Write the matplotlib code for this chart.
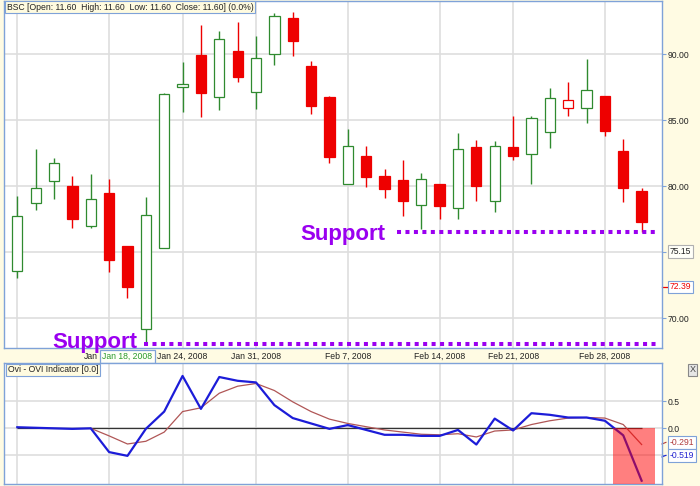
import matplotlib
matplotlib.use("Agg")
import matplotlib.pyplot as plt
import matplotlib.transforms as mtransforms
from matplotlib.patches import Rectangle
import numpy as np

plt.rcParams["font.family"] = ["Liberation Sans", "DejaVu Sans"]

# --- price data (one value per trading session) ---
opens = [73.58, 78.76, 80.42, 80.02, 77.02, 79.49, 75.48, 69.19, 75.33, 87.50,
         89.95, 86.74, 90.23, 87.12, 90.00, 92.77, 89.09, 86.77, 80.20, 82.30,
         80.80, 80.45, 78.56, 80.15, 78.36, 82.95, 78.91, 83.00, 82.42, 84.14,
         85.91, 85.91, 86.82, 82.70, 79.67]
highs = [79.29, 82.80, 82.12, 80.78, 80.93, 80.55, 75.48, 79.21, 87.05, 89.44,
         92.20, 91.77, 92.42, 91.41, 93.11, 93.23, 89.49, 86.82, 84.34, 83.03,
         81.31, 81.97, 81.01, 80.15, 84.02, 83.51, 83.43, 85.33, 85.30, 87.42,
         87.88, 89.62, 86.82, 83.56, 79.89]
lows = [73.03, 78.20, 79.02, 76.82, 76.82, 73.48, 71.56, 68.23, 75.33, 85.65,
        85.27, 85.76, 87.92, 85.88, 89.17, 89.89, 85.50, 81.79, 80.20, 79.97,
        79.14, 77.75, 76.79, 77.50, 77.55, 78.89, 78.05, 81.99, 80.17, 82.92,
        85.33, 84.80, 83.83, 78.79, 76.52]
closes = [77.77, 79.89, 81.79, 77.55, 79.04, 74.42, 72.39, 77.83, 86.99, 87.73,
          87.05, 91.14, 88.26, 89.70, 92.90, 90.98, 86.06, 82.24, 83.05, 80.68,
          79.77, 78.89, 80.55, 78.48, 82.80, 80.00, 83.05, 82.27, 85.20, 86.69,
          86.54, 87.30, 84.19, 79.85, 77.32]

# OVI indicator and its signal line (signal starts at the 5th session)
ovi = [0.02, 0.01, 0.00, -0.01, 0.00, -0.44, -0.51, -0.01, 0.31, 0.97,
       0.36, 0.95, 0.88, 0.85, 0.43, 0.19, 0.09, -0.01, 0.06, -0.03,
       -0.12, -0.12, -0.14, -0.14, -0.03, -0.30, 0.18, -0.04, 0.28, 0.25,
       0.20, 0.20, 0.14, -0.13, -0.97]
ovi_signal = [np.nan, np.nan, np.nan, np.nan, 0.00, -0.14, -0.29, -0.24, -0.07, 0.31,
              0.38, 0.65, 0.78, 0.83, 0.70, 0.49, 0.31, 0.17, 0.09, 0.03,
              -0.03, -0.07, -0.11, -0.12, -0.10, -0.16, -0.05, -0.03, 0.07, 0.14,
              0.19, 0.20, 0.19, 0.07, -0.30]

# week grid lines (session index) and their labels
week_idx = [0, 5, 9, 13, 18, 23, 27, 32]
week_labels = ["", "", "Jan 24, 2008", "Jan 31, 2008", "Feb 7, 2008",
               "Feb 14, 2008", "Feb 21, 2008", "Feb 28, 2008"]
# label of the Jan 17 line is mostly hidden by the cursor box, only "Jan" shows
hidden_label = "Jan"
hidden_label_at = 4.40
cursor_idx = 6
cursor_label = "Jan 18, 2008"

price_ticks = [70, 75, 80, 85, 90]
price_tick_labels = ["70.00", "", "80.00", "85.00", "90.00"]
last_price = 75.15
marker_price = 72.39

ovi_ticks = [-0.5, 0.0, 0.5]
ovi_tick_labels = ["", "0.0", "0.5"]
ovi_last = -0.519
signal_last = -0.291
signal_zone = (32.46, 34.75)

support_levels = [76.52, 68.05]
support_from = [20.7, 6.9]
support_text_at = [15.4, 1.93]

header = "BSC [Open: 11.60  High: 11.60  Low: 11.60  Close: 11.60] (0.0%)"
ovi_header = "Ovi - OVI Indicator [0.0]"

# --- colours ---
CREAM = "#fffbe3"
BLUE = "#7fa2d8"
GRID = "#dedede"
UP = "#2f8a2f"
DOWN = "#ee0000"
PURPLE = "#9a00f0"

n = len(closes)
x = np.arange(n)
xmin, xmax = -0.724, 35.11

fig = plt.figure(figsize=(7, 4.86), dpi=100, facecolor=CREAM)
ax = fig.add_axes([4 / 700, 1 - 348.3 / 486, 658 / 700, 347.3 / 486])
ax2 = fig.add_axes([4 / 700, 1 - 484 / 486, 658 / 700, 120.7 / 486])

for a in (ax, ax2):
    a.set_facecolor("white")
    a.set_xlim(xmin, xmax)
    for s in a.spines.values():
        s.set_color(BLUE)
        s.set_linewidth(1.0)
    a.set_xticks(week_idx)
    a.set_xticklabels([])
    a.grid(True, color=GRID, lw=1.2, zorder=0)
    a.set_axisbelow(True)
    a.yaxis.tick_right()
    a.tick_params(axis="y", length=3, width=0.8, color=BLUE, labelsize=6.2,
                  pad=1, labelcolor="#222222")
    a.tick_params(axis="x", length=0)

# --- candles ---
ax.set_ylim(67.73, 94.04)
width = 0.56
for i in range(n):
    prev = closes[i - 1] if i > 0 else opens[i]
    col = DOWN if closes[i] < prev else UP
    filled = closes[i] < opens[i]
    lo, hi = min(opens[i], closes[i]), max(opens[i], closes[i])
    ax.vlines(x[i], lows[i], highs[i], color=col, lw=1.0, zorder=2)
    ax.bar(x[i], hi - lo, bottom=lo, width=width,
           facecolor=col if filled else "white", edgecolor=col,
           lw=0.9, zorder=3)

ax.set_yticks(price_ticks)
ax.set_yticklabels(price_tick_labels)

# support lines
for lvl, start in zip(support_levels, support_from):
    ax.plot([start, 34.9], [lvl, lvl], color=PURPLE, lw=2.9,
            linestyle=(0, (1, 1.1)), dash_capstyle="butt", zorder=4, clip_on=False)
ax.text(support_text_at[0], 75.93, "Support", color=PURPLE, fontsize=16,
        fontweight="bold", ha="left", va="baseline", zorder=5)
ax.text(support_text_at[1], 67.73, "Support", color=PURPLE, fontsize=16,
        fontweight="bold", ha="left", va="baseline", zorder=5, clip_on=False)

# date labels under the price panel
trans = mtransforms.blended_transform_factory(ax.transData, ax.transAxes)
for i, lab in zip(week_idx, week_labels):
    ax.text(i, -0.0242, lab, transform=trans, ha="center", va="center",
            fontsize=6.2, color="#222222", zorder=6)
ax.text(hidden_label_at, -0.0242, hidden_label, transform=trans, ha="right",
        va="center", fontsize=6.2, color="#222222", zorder=6)
ax.text(cursor_idx, -0.0242, cursor_label, transform=trans, ha="center",
        va="center", fontsize=6.2, color="#2a9a2a", zorder=7,
        bbox=dict(boxstyle="square,pad=0.25", fc="#fffff8", ec=BLUE, lw=0.9))

# right-hand price boxes
ytrans = mtransforms.blended_transform_factory(ax.transAxes, ax.transData)
ax.text(1.012, last_price - 0.1, f"{last_price:.2f}", transform=ytrans,
        ha="left", va="center", fontsize=6.2, color="#222222",
        bbox=dict(boxstyle="square,pad=0.2", fc="#fffff8", ec="#b0b0b0", lw=0.8))
ax.plot([1.0, 1.008], [marker_price, marker_price], transform=ytrans,
        color=DOWN, lw=0.9, clip_on=False)
ax.text(1.012, marker_price, f"{marker_price:.2f}", transform=ytrans,
        ha="left", va="center", fontsize=6.2, color=DOWN,
        bbox=dict(boxstyle="square,pad=0.2", fc="white", ec=BLUE, lw=0.8))

# --- OVI panel ---
ax2.set_ylim(-1.031, 1.204)
ax2.set_yticks(ovi_ticks)
ax2.set_yticklabels(ovi_tick_labels)
ax2.hlines(0, 0, n - 1, color="#333333", lw=0.9, zorder=2)
ax2.plot(x, ovi_signal, color="#b05656", lw=0.9, zorder=3)
ax2.plot(x, ovi, color="#1c1cd8", lw=1.6, zorder=3)
ax2.add_patch(Rectangle((signal_zone[0], -1.031), signal_zone[1] - signal_zone[0],
                        1.031, facecolor="red", alpha=0.5, edgecolor="none",
                        zorder=4))

ytrans2 = mtransforms.blended_transform_factory(ax2.transAxes, ax2.transData)
for val, pos, col in [(signal_last, -0.26, "#b03a3a"), (ovi_last, -0.50, "#2222d0")]:
    ax2.plot([1.0, 1.006], [pos - 0.03, pos], transform=ytrans2, color=col,
             lw=0.8, clip_on=False)
    ax2.text(1.012, pos, f"{val:.3f}", transform=ytrans2, ha="left",
             va="center", fontsize=6.2, color=col,
             bbox=dict(boxstyle="square,pad=0.2", fc="white", ec=BLUE, lw=0.8))

# panel titles
fig.text(7 / 700, 1 - 7 / 486, header, ha="left", va="center", fontsize=6.2,
         color="#222222",
         bbox=dict(boxstyle="square,pad=0.2", fc="#fffbe0", ec=BLUE, lw=0.8))
fig.text(8 / 700, 1 - 370 / 486, ovi_header, ha="left", va="center",
         fontsize=6.2, color="#222222",
         bbox=dict(boxstyle="square,pad=0.2", fc="#fffbe0", ec=BLUE, lw=0.8))
fig.text(692.5 / 700, 1 - 370 / 486, "X", ha="center", va="center",
         fontsize=6.5, color="#444444",
         bbox=dict(boxstyle="square,pad=0.15", fc="#e6e6e6", ec="#888888", lw=0.8))

fig.savefig("out.png", dpi=100, facecolor=CREAM)
